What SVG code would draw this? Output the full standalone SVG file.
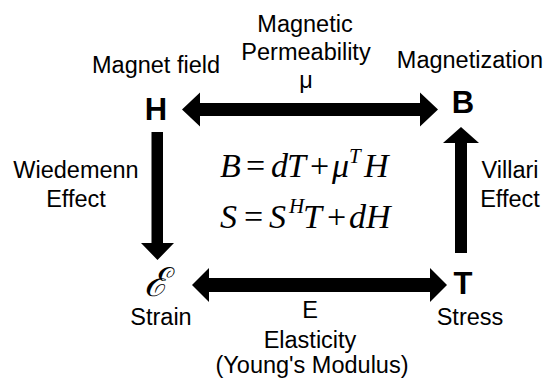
<svg xmlns="http://www.w3.org/2000/svg" width="544" height="383" viewBox="0 0 544 383">
<style>
.lbl{font-family:"Liberation Sans",Arial,sans-serif;font-size:23.5px;fill:#000;text-anchor:middle}
.sym{font-family:"Liberation Sans",Arial,sans-serif;font-size:31px;font-weight:bold;fill:#000;text-anchor:middle}
.eq{font-family:"Liberation Serif","Times New Roman",serif;font-size:34px;font-style:italic;fill:#000}
.op{font-style:normal}
.sup{font-size:21px}
.arr{fill:#000}
</style>
<rect width="544" height="383" fill="#fff"/>
<g id="connectors">
<polygon class="arr" points="182,109.5 200,92.5 200,103 420,103 420,92.5 438,109.5 420,126.5 420,116 200,116 200,126.5"/>
<polygon class="arr" points="192,285 209,268 209,278 430,278 430,268 447,285 430,302 430,292 209,292 209,302"/>
<polygon class="arr" points="151.5,132 163,132 163,243 174,243 157.5,260 141,243 151.5,243"/>
<polygon class="arr" points="455,253 467,253 467,143 479,143 461,127 443,143 455,143"/>
</g>
<g id="node-H">
<text class="sym" x="156" y="120">H</text>
<text class="lbl" x="156" y="73">Magnet field</text>
</g>
<g id="node-B">
<text class="sym" x="463" y="113">B</text>
<text class="lbl" x="470" y="68">Magnetization</text>
</g>
<g id="node-E">
<text x="156" y="296" font-family="DejaVu Serif,serif" font-size="40" font-style="italic" text-anchor="middle" fill="#000">ℰ</text>
<text class="lbl" x="161" y="325">Strain</text>
</g>
<g id="node-T">
<text class="sym" x="463" y="294">T</text>
<text class="lbl" x="470" y="325">Stress</text>
</g>
<g id="labels">
<text class="lbl" x="305" y="32">Magnetic</text>
<text class="lbl" x="306" y="60">Permeability</text>
<text class="lbl" x="306" y="88">μ</text>
<text class="lbl" x="76" y="178">Wiedemenn</text>
<text class="lbl" x="76" y="207">Effect</text>
<text class="lbl" x="510" y="178">Villari</text>
<text class="lbl" x="510" y="207">Effect</text>
<text class="lbl" x="310" y="318">E</text>
<text class="lbl" x="310" y="348">Elasticity</text>
<text class="lbl" x="312" y="373">(Young's Modulus)</text>
</g>
<g id="equations">
<text class="eq" y="177"><tspan x="220">B</tspan><tspan class="op" x="246">=</tspan><tspan x="271">d</tspan><tspan x="287">T</tspan><tspan class="op" x="310">+</tspan><tspan x="332">μ</tspan><tspan class="sup" x="349" y="163">T</tspan><tspan x="364" y="177">H</tspan></text>
<text class="eq" y="228"><tspan x="220">S</tspan><tspan class="op" x="244">=</tspan><tspan x="269">S</tspan><tspan class="sup" x="289" y="213">H</tspan><tspan x="303" y="228">T</tspan><tspan class="op" x="327">+</tspan><tspan x="349">d</tspan><tspan x="366">H</tspan></text>
</g>
</svg>
